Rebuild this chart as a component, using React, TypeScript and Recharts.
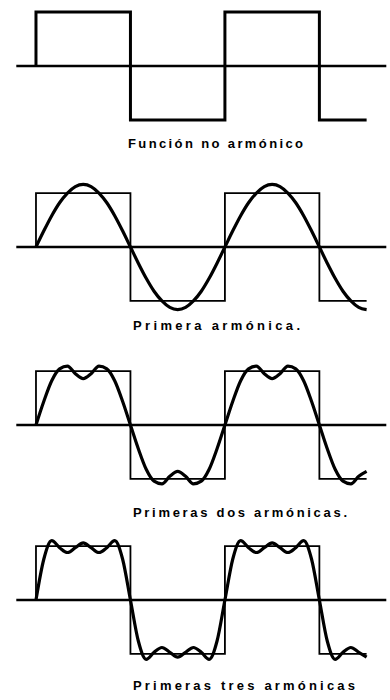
import { LineChart, Line, XAxis, YAxis, ReferenceLine } from "recharts";

// phase in 15° steps: 12 steps = half a period
const phase = [
  0, 1, 2, 3, 4, 5, 6, 7, 8, 9, 10, 11, 12, 13, 14, 15, 16, 17, 18, 19, 20, 21,
  22, 23, 24, 25, 26, 27, 28, 29, 30, 31, 32, 33, 34, 35, 36, 37, 38, 39, 40,
  41, 42,
];

// square wave corners
const squareX = [0, 0, 12, 12, 24, 24, 36, 36, 42];
const squareY = [0, 1, 1, -1, -1, 1, 1, -1, -1];

// first harmonic
const firstHarmonic = [
  0, 0.3, 0.58, 0.82, 1.0, 1.12, 1.16, 1.12, 1.0, 0.82, 0.58, 0.3, 0,
  -0.3, -0.58, -0.82, -1.0, -1.12, -1.16, -1.12, -1.0, -0.82, -0.58, -0.3, 0,
  0.3, 0.58, 0.82, 1.0, 1.12, 1.16, 1.12, 1.0, 0.82, 0.58, 0.3, 0,
  -0.3, -0.58, -0.82, -1.0, -1.12, -1.16,
];

// first two harmonics
const twoHarmonics = [
  0, 0.44, 0.82, 1.04, 1.09, 0.95, 0.86, 0.95, 1.09, 1.04, 0.82, 0.44, 0,
  -0.44, -0.82, -1.04, -1.09, -0.95, -0.86, -0.95, -1.09, -1.04, -0.82, -0.44, 0,
  0.44, 0.82, 1.04, 1.09, 0.95, 0.86, 0.95, 1.09, 1.04, 0.82, 0.44, 0,
  -0.44, -0.82, -1.04, -1.09, -0.95, -0.86,
];

// first three harmonics
const threeHarmonics = [
  0, 0.76, 1.1, 0.97, 0.88, 0.97, 1.06, 0.97, 0.88, 0.97, 1.1, 0.76, 0,
  -0.76, -1.1, -0.97, -0.88, -0.97, -1.06, -0.97, -0.88, -0.97, -1.1, -0.76, 0,
  0.76, 1.1, 0.97, 0.88, 0.97, 1.06, 0.97, 0.88, 0.97, 1.1, 0.76, 0,
  -0.76, -1.1, -0.97, -0.88, -0.97, -1.06,
];

const captions = [
  "Función no armónico",
  "Primera armónica.",
  "Primeras dos armónicas.",
  "Primeras tres armónicas",
];

const square = squareX.map((x, i) => ({ x, y: squareY[i] }));
const toRows = (ys: number[]) => phase.map((x, i) => ({ x, y: ys[i] }));

const panels = [
  { top: -14, curve: null, squareWidth: 3 },
  { top: 167, curve: toRows(firstHarmonic), squareWidth: 1.8 },
  { top: 345, curve: toRows(twoHarmonics), squareWidth: 1.8 },
  { top: 520, curve: toRows(threeHarmonics), squareWidth: 1.8 },
];

const captionPos = [
  { x: 128, y: 148, len: 175 },
  { x: 133, y: 330, len: 167 },
  { x: 133, y: 517, len: 214 },
  { x: 133, y: 690, len: 222 },
];

function Panel({ top, curve, squareWidth }: (typeof panels)[number]) {
  return (
    <div style={{ position: "absolute", left: 0, top }}>
      <LineChart
        width={390}
        height={160}
        margin={{ top: 5, right: 3.7, bottom: 5, left: 16.3 }}
      >
        <XAxis
          type="number"
          dataKey="x"
          domain={[-2.5, 44.5]}
          allowDataOverflow
          hide
        />
        <YAxis type="number" domain={[-1.39, 1.39]} allowDataOverflow hide />
        <ReferenceLine y={0} stroke="#000" strokeWidth={2.6} />
        <Line
          data={square}
          dataKey="y"
          type="linear"
          stroke="#000"
          strokeWidth={squareWidth}
          dot={false}
          isAnimationActive={false}
        />
        {curve && (
          <Line
            data={curve}
            dataKey="y"
            type="monotone"
            stroke="#000"
            strokeWidth={3.2}
            dot={false}
            isAnimationActive={false}
          />
        )}
      </LineChart>
    </div>
  );
}

export default function App() {
  return (
    <div
      style={{
        position: "absolute",
        left: 0,
        top: 0,
        width: 390,
        height: 700,
        overflow: "hidden",
        background: "#fff",
      }}
    >
      {panels.map((p, i) => (
        <Panel key={i} {...p} />
      ))}
      <svg
        width={390}
        height={700}
        style={{ position: "absolute", left: 0, top: 0, pointerEvents: "none" }}
      >
        {captions.map((c, i) => (
          <text
            key={c}
            x={captionPos[i].x}
            y={captionPos[i].y}
            textLength={captionPos[i].len}
            lengthAdjust="spacing"
            fontFamily="'Liberation Sans', Arial, sans-serif"
            fontWeight="bold"
            fontSize={13}
            fill="#000"
          >
            {c}
          </text>
        ))}
      </svg>
    </div>
  );
}
